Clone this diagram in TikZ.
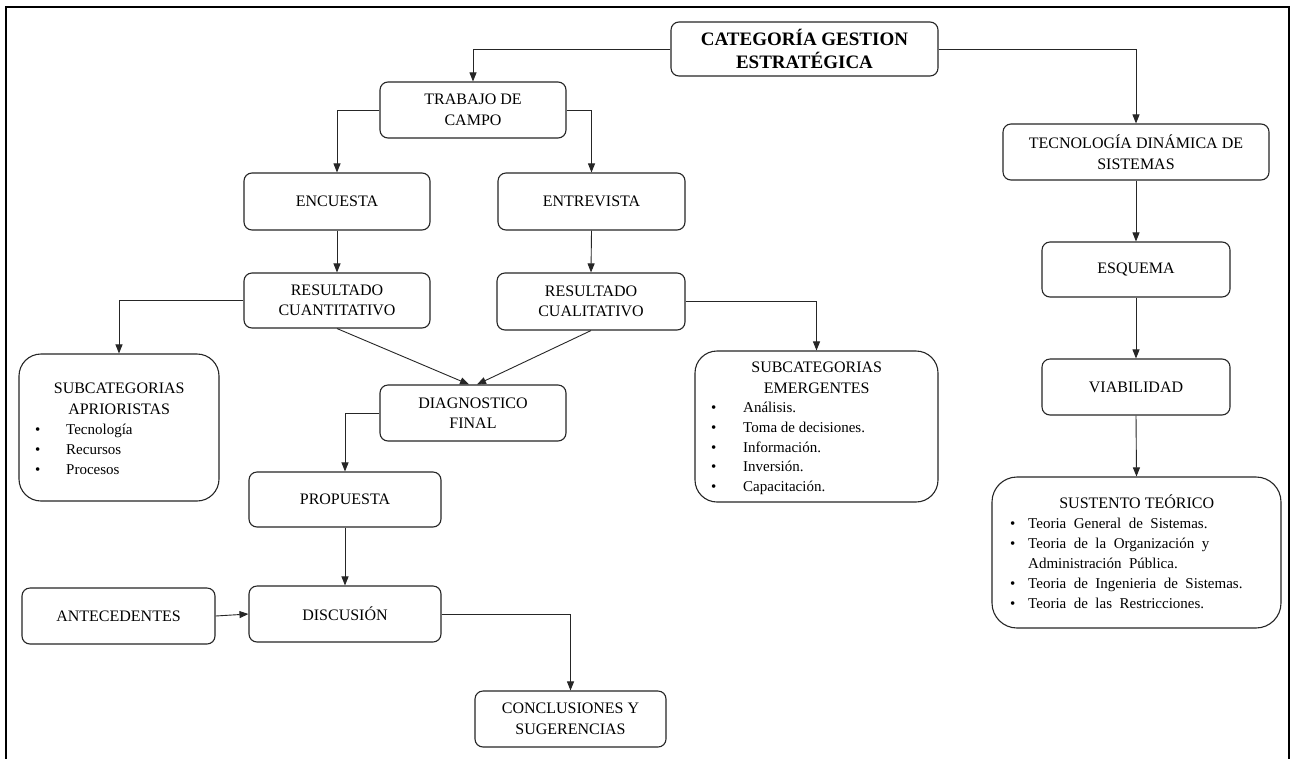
\documentclass[tikz,border=0pt]{standalone}
\usepackage{fontspec}
\setmainfont{Liberation Serif}
\usetikzlibrary{arrows.meta}

\tikzset{
  box/.style={draw=black!85, line width=1.1pt, rounded corners=8pt, fill=white,
    align=center, inner sep=0pt, font=\fontsize{16}{20.5}\selectfont},
  listbox/.style={box, rounded corners=22pt},
  arr/.style={draw=black!85, line width=0.9pt, -{Triangle[length=9pt,width=7pt]}},
  listtext/.style={anchor=base west, inner sep=0pt},
}

\newcommand{\titlefont}{\fontsize{16}{20.5}\selectfont}
\newcommand{\itemfont}{\fontsize{15}{20}\selectfont}
\newcommand{\bul}[2]{\hspace*{#1}\makebox[#2][l]{\textbullet}}

\begin{document}
\begin{tikzpicture}[x=1pt,y=-1pt]
\useasboundingbox (0,0) rectangle (1297,758);
\fill[white] (0,0) rectangle (1297,758);

% outer frame, open at the bottom
\draw[line width=2.4pt] (6,762) -- (6,7) -- (1289,7) -- (1289,762);

% ---- main column nodes
\node[box, minimum width=267pt, minimum height=54pt, font=\fontsize{19}{23}\selectfont\bfseries]
  (cat) at (804.5,49) {CATEGORÍA GESTION\\ESTRATÉGICA};
\node[box, minimum width=186pt, minimum height=56pt] (trab) at (473,110) {TRABAJO DE\\CAMPO};
\node[box, minimum width=186pt, minimum height=57pt] (enc) at (337,201.5) {ENCUESTA};
\node[box, minimum width=187pt, minimum height=57pt] (ent) at (591.5,201.5) {ENTREVISTA};
\node[box, minimum width=186pt, minimum height=55pt] (rcuan) at (337,300.5) {RESULTADO\\CUANTITATIVO};
\node[box, minimum width=188pt, minimum height=57pt] (rcual) at (591,301.5) {RESULTADO\\CUALITATIVO};
\node[box, minimum width=186pt, minimum height=56pt] (diag) at (473,413) {DIAGNOSTICO\\FINAL};
\node[box, minimum width=192pt, minimum height=55pt] (prop) at (345,499.5) {PROPUESTA};
\node[box, minimum width=192pt, minimum height=56pt] (disc) at (345,614) {DISCUSIÓN};
\node[box, minimum width=193pt, minimum height=56pt] (ante) at (118.5,616) {ANTECEDENTES};
\node[box, minimum width=191pt, minimum height=56pt] (conc) at (570.5,719) {CONCLUSIONES Y\\SUGERENCIAS};

% ---- right column nodes
\node[box, minimum width=266pt, minimum height=56pt] (tec) at (1136,152) {TECNOLOGÍA DINÁMICA DE\\SISTEMAS};
\node[box, minimum width=188pt, minimum height=55pt] (esq) at (1136,269.5) {ESQUEMA};
\node[box, minimum width=188pt, minimum height=56pt] (via) at (1136,387) {VIABILIDAD};

% ---- list boxes
\node[listbox, minimum width=200pt, minimum height=147pt] (apr) at (119,427.5) {};
\node[listtext] (aprtxt) at (19,393.5) {\parbox[t]{200pt}{%
  {\titlefont\centering SUBCATEGORIAS\\APRIORISTAS\par}
  \itemfont\raggedright
  \bul{16pt}{31pt}Tecnología\\
  \bul{16pt}{31pt}Recursos\\
  \bul{16pt}{31pt}Procesos}};

\node[listbox, minimum width=243pt, minimum height=151pt] (emer) at (816.5,426.5) {};
\node[listtext] (emertxt) at (695,372.5) {\parbox[t]{243pt}{%
  {\titlefont\centering SUBCATEGORIAS\\EMERGENTES\par}
  \fontsize{15}{19.7}\selectfont\raggedright
  \bul{16pt}{32pt}Análisis.\\
  \bul{16pt}{32pt}Toma de decisiones.\\
  \bul{16pt}{32pt}Información.\\
  \bul{16pt}{32pt}Inversión.\\
  \bul{16pt}{32pt}Capacitación.}};

\node[listbox, minimum width=289pt, minimum height=151pt, rounded corners=25pt] (sus) at (1136.5,552.5) {};
\node[listtext] (sustxt) at (992,508) {\parbox[t]{289pt}{%
  {\titlefont\centering SUSTENTO TEÓRICO\par}
  \itemfont\raggedright\spaceskip=7.5pt plus 1pt
  \bul{18pt}{18pt}Teoria General de Sistemas.\\
  \bul{18pt}{18pt}Teoria de la Organización y\\
  \hspace*{36pt}Administración Pública.\\
  \bul{18pt}{18pt}Teoria de Ingenieria de Sistemas.\\
  \bul{18pt}{18pt}Teoria de las Restricciones.}};

% ---- connectors
\draw[arr] (cat.west) -| (trab.north);
\draw[arr] (cat.east) -| (tec.north);
\draw[arr] (trab.west) -| (enc.north);
\draw[arr] (trab.east) -| (ent.north);
\draw[arr] (enc.south) -- (rcuan.north);
\draw[arr] (ent.south) -- (rcual.north);
\draw[arr] (rcuan.west) -| (apr.north);
\draw[arr] (rcuan.south) -- ([xshift=-4pt]diag.north);
\draw[arr] (rcual.south) -- ([xshift=4pt]diag.north);
\draw[arr] (rcual.east) -| (emer.north);
\draw[arr] (diag.west) -| (prop.north);
\draw[arr] (prop.south) -- (disc.north);
\draw[arr] (ante.east) -- (disc.west);
\draw[arr] (disc.east) -| (conc.north);
\draw[arr] (tec.south) -- (esq.north);
\draw[arr] (esq.south) -- (via.north);
\draw[arr] (via.south) -- (sus.north);
\end{tikzpicture}
\end{document}
